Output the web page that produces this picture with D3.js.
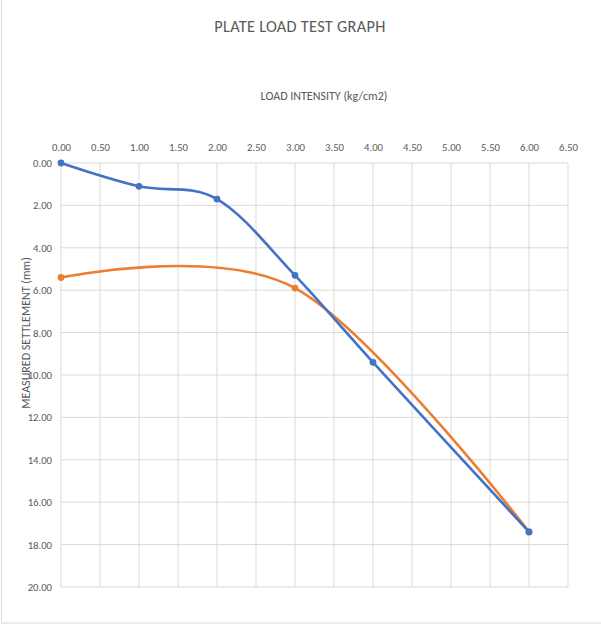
<!DOCTYPE html>
<html>
<head>
<meta charset="utf-8">
<script src="https://cdn.jsdelivr.net/npm/d3@7"></script>
<style>
  body { margin: 0; background: #fff; }
  text { font-family: Calibri, Carlito, "Open Sans", sans-serif; }
</style>
</head>
<body>
<svg id="chart" width="601" height="634"></svg>
<script>
// load intensity (kg/cm2) and settlement (mm)
var blueLoad = [0, 1, 2, 3, 4, 6];
var blueSettle = [0, 1.1, 1.7, 5.3, 9.4, 17.4];
var orangeLoad = [0, 3, 6];
var orangeSettle = [5.4, 5.9, 17.4];
var xTicks = [0, 0.5, 1, 1.5, 2, 2.5, 3, 3.5, 4, 4.5, 5, 5.5, 6, 6.5];
var yTicks = [0, 2, 4, 6, 8, 10, 12, 14, 16, 18, 20];

var svg = d3.select('#chart');

// outer chart border (left + bottom show in the frame)
svg.append('rect')
    .attr('x', 1.5).attr('y', -5)
    .attr('width', 620).attr('height', 628)
    .attr('fill', 'none').attr('stroke', '#d9d9d9');

var x = d3.scaleLinear([0, 6.5], [61, 568]);
var y = d3.scaleLinear([0, 20], [163, 587]);

// gridlines
svg.append('g').selectAll('line').data(xTicks).join('line')
    .attr('x1', d => x(d)).attr('x2', d => x(d))
    .attr('y1', y(0)).attr('y2', y(20))
    .attr('stroke', '#d9d9d9').attr('stroke-width', 1);
svg.append('g').selectAll('line').data(yTicks).join('line')
    .attr('x1', x(0)).attr('x2', x(6.5))
    .attr('y1', d => y(d)).attr('y2', d => y(d))
    .attr('stroke', '#d9d9d9').attr('stroke-width', 1);

// axes (labels only)
var xAxis = d3.axisTop(x).tickValues(xTicks).tickFormat(d3.format('.2f')).tickSize(0).tickPadding(12);
var gx = svg.append('g').attr('transform', 'translate(0,' + y(0) + ')').call(xAxis);
var yAxis = d3.axisLeft(y).tickValues(yTicks).tickFormat(d3.format('.2f')).tickSize(0).tickPadding(9);
var gy = svg.append('g').attr('transform', 'translate(' + x(0) + ',0)').call(yAxis);
[gx, gy].forEach(function(g) {
    g.select('.domain').remove();
    g.selectAll('text').attr('fill', '#595959').attr('font-size', 10.7)
        .style('font-family', 'Calibri, Carlito, "Open Sans", sans-serif');
});

// titles
svg.append('text').attr('x', 300).attr('y', 32).attr('text-anchor', 'middle')
    .attr('font-size', 16.3).attr('letter-spacing', 0.3).attr('fill', '#595959')
    .text('PLATE LOAD TEST GRAPH');
svg.append('text').attr('x', 324).attr('y', 100).attr('text-anchor', 'middle')
    .attr('font-size', 12).attr('fill', '#595959').text('LOAD INTENSITY (kg/cm2)');
svg.append('text').attr('transform', 'translate(30,333) rotate(-90)').attr('text-anchor', 'middle')
    .attr('font-size', 12).attr('fill', '#595959').text('MEASURED SETTLEMENT (mm)');

var line = d3.line().curve(d3.curveCardinal.tension(0))
    .x(d => x(d[0])).y(d => y(d[1]));

function series(loads, settles, color) {
    var pts = d3.zip(loads, settles);
    svg.append('path').datum(pts).attr('d', line)
        .attr('fill', 'none').attr('stroke', color).attr('stroke-width', 2.6)
        .attr('stroke-linejoin', 'round');
    svg.append('g').selectAll('circle').data(pts).join('circle')
        .attr('cx', d => x(d[0])).attr('cy', d => y(d[1])).attr('r', 3.4)
        .attr('fill', color);
}

series(orangeLoad, orangeSettle, '#ed7d31');
series(blueLoad, blueSettle, '#4472c4');
</script>
</body>
</html>
